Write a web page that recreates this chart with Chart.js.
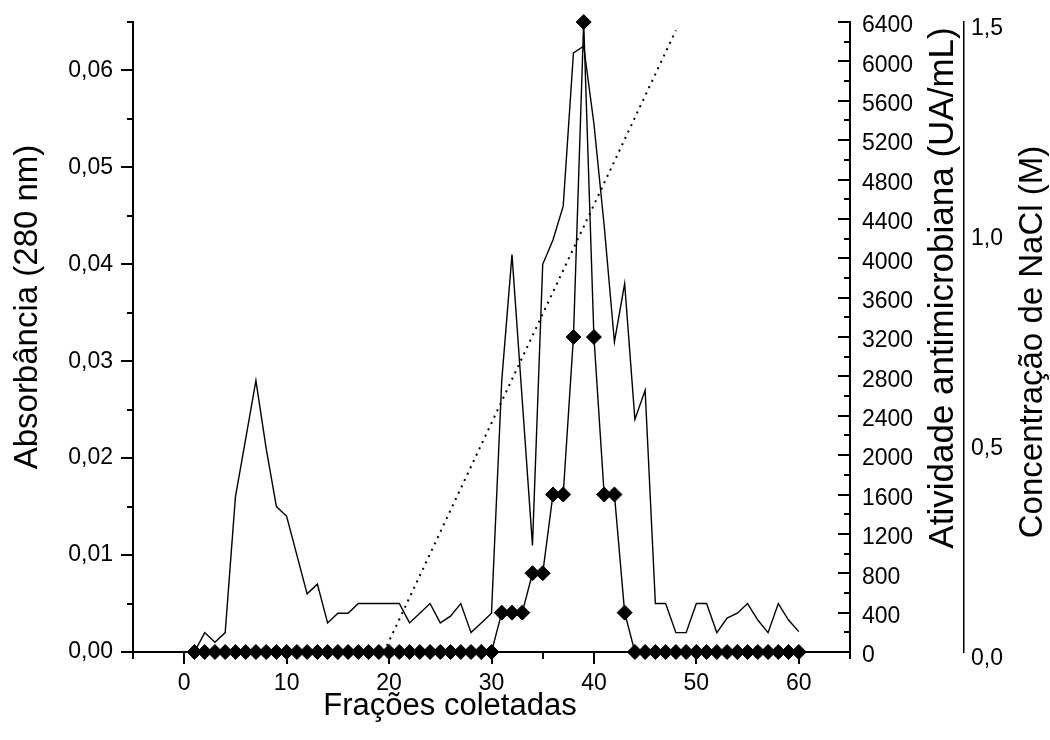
<!DOCTYPE html>
<html>
<head>
<meta charset="utf-8">
<script src="https://cdn.jsdelivr.net/npm/chart.js@4.4.0/dist/chart.umd.min.js"></script>
<style>
    html, body { margin: 0; padding: 0; background: #fff; }
    canvas { display: block; }
</style>
</head>
<body>
<canvas id="chart" width="1050" height="740"></canvas>
<script>
"use strict";

// Frações coletadas
const fractions = [1, 2, 3, 4, 5, 6, 7, 8, 9, 10, 11, 12, 13, 14, 15, 16, 17, 18, 19, 20,
    21, 22, 23, 24, 25, 26, 27, 28, 29, 30, 31, 32, 33, 34, 35, 36, 37, 38, 39, 40,
    41, 42, 43, 44, 45, 46, 47, 48, 49, 50, 51, 52, 53, 54, 55, 56, 57, 58, 59, 60];

// Absorbância (280 nm)
const absorbance = [0.000, 0.002, 0.001, 0.002, 0.016, 0.022, 0.028, 0.021, 0.015, 0.014,
    0.010, 0.006, 0.007, 0.003, 0.004, 0.004, 0.005, 0.005, 0.005, 0.005,
    0.005, 0.003, 0.004, 0.005, 0.003, 0.0037, 0.005, 0.002, 0.003, 0.004,
    0.028, 0.041, 0.026, 0.011, 0.040, 0.0425, 0.046, 0.0618, 0.0625, 0.0545,
    0.044, 0.032, 0.038, 0.024, 0.027, 0.005, 0.005, 0.002, 0.002, 0.005,
    0.005, 0.002, 0.0035, 0.004, 0.005, 0.0033, 0.002, 0.005, 0.0033, 0.0021];

// Atividade antimicrobiana (UA/mL)
const activity = [0, 0, 0, 0, 0, 0, 0, 0, 0, 0, 0, 0, 0, 0, 0, 0, 0, 0, 0, 0,
    0, 0, 0, 0, 0, 0, 0, 0, 0, 0, 400, 400, 400, 800, 800, 1600, 1600, 3200, 6400, 3200,
    1600, 1600, 400, 0, 0, 0, 0, 0, 0, 0, 0, 0, 0, 0, 0, 0, 0, 0, 0, 0];

// gradiente de NaCl (M)
const naclFractions = [19.5, 48];
const naclConc = [0, 1.48];

// ticks
const xTicks = [0, 10, 20, 30, 40, 50, 60];
const xMinorTicks = [-5, 5, 15, 25, 35, 45, 55, 65];
const absTicks = [0, 0.01, 0.02, 0.03, 0.04, 0.05, 0.06];
const absMinorTicks = [0.005, 0.015, 0.025, 0.035, 0.045, 0.055, 0.065];
const activityTicks = [0, 400, 800, 1200, 1600, 2000, 2400, 2800, 3200, 3600, 4000,
    4400, 4800, 5200, 5600, 6000, 6400];
const activityMinorTicks = [200, 600, 1000, 1400, 1800, 2200, 2600, 3000, 3400, 3800,
    4200, 4600, 5000, 5400, 5800, 6200];
const naclTicks = [0, 0.5, 1.0, 1.5];

const FONT = "'Liberation Sans', Arial, sans-serif";
const tickFont = { family: FONT, size: 23 };

const setTicks = (values) => (scale) => {
    scale.ticks = values.map(v => ({ value: v }));
};
const comma = (digits) => (v) => Number(v).toFixed(digits).replace(".", ",");
// invisible tick marks only used as a gap between axis line and labels
const gap = (len) => ({
    display: true, drawOnChartArea: false, drawTicks: true,
    tickLength: len, tickColor: "rgba(0,0,0,0)"
});

// small ticks, inward ticks and rotated titles
const extras = {
    id: "extras",
    afterDraw(chart) {
        const ctx = chart.ctx;
        const { x, y, y1 } = chart.scales;
        ctx.save();
        ctx.strokeStyle = "#000";
        ctx.lineWidth = 2;
        ctx.beginPath();
        const xTick = (v, len) => {
            const px = Math.round(x.getPixelForValue(v));
            ctx.moveTo(px, x.top);
            ctx.lineTo(px, x.top + len);
        };
        xTicks.forEach(v => xTick(v, 12));
        xMinorTicks.forEach(v => xTick(v, 7));
        const yTick = (scale, v, edge, len) => {
            const py = Math.round(scale.getPixelForValue(v));
            ctx.moveTo(edge, py);
            ctx.lineTo(edge - len, py);
        };
        absTicks.forEach(v => yTick(y, v, y.right, 12));
        absMinorTicks.forEach(v => yTick(y, v, y.right, 6));
        activityTicks.forEach(v => yTick(y1, v, y1.left, 12));
        activityMinorTicks.forEach(v => yTick(y1, v, y1.left, 6));
        ctx.stroke();

        ctx.fillStyle = "#000";
        ctx.textAlign = "center";
        ctx.textBaseline = "alphabetic";
        ctx.font = "31px " + FONT;
        ctx.fillText("Frações coletadas", 450, 715);

        const vTitle = (text, bx, cy, size) => {
            ctx.save();
            ctx.font = size + "px " + FONT;
            ctx.translate(bx, cy);
            ctx.rotate(-Math.PI / 2);
            ctx.fillText(text, 0, 0);
            ctx.restore();
        };
        vTitle("Absorbância (280 nm)", 37, 307, 33);
        vTitle("Atividade antimicrobiana (UA/mL)", 953, 288, 35);
        vTitle("Concentração de NaCl (M)", 1042, 342, 33);
        ctx.restore();
    }
};

new Chart(document.getElementById("chart"), {
    type: "line",
    data: {
        datasets: [
            {
                label: "Atividade antimicrobiana",
                data: fractions.map((f, i) => ({ x: f, y: activity[i] })),
                yAxisID: "y1",
                borderColor: "#000",
                borderWidth: 1.4,
                pointStyle: "rectRot",
                pointRadius: 7.5,
                pointBackgroundColor: "#000",
                pointBorderColor: "#000",
                pointBorderWidth: 1,
                clip: false
            },
            {
                label: "Absorbância",
                data: fractions.map((f, i) => ({ x: f, y: absorbance[i] })),
                yAxisID: "y",
                borderColor: "#000",
                borderWidth: 1.4,
                pointRadius: 0
            },
            {
                label: "NaCl",
                data: naclFractions.map((f, i) => ({ x: f, y: naclConc[i] })),
                yAxisID: "y2",
                borderColor: "#000",
                borderWidth: 2,
                borderDash: [2, 5],
                pointRadius: 0
            }
        ]
    },
    options: {
        responsive: false,
        animation: false,
        devicePixelRatio: 1,
        layout: { padding: { top: 22, left: 0, right: 0, bottom: 0 } },
        plugins: {
            legend: { display: false },
            tooltip: { enabled: false }
        },
        scales: {
            x: {
                type: "linear",
                position: "bottom",
                min: -5,
                max: 65,
                afterBuildTicks: setTicks(xTicks),
                afterFit: (s) => { s.height = 88; },
                grid: gap(18),
                border: { display: true, color: "#000", width: 2 },
                ticks: { padding: 0, color: "#000", font: tickFont, maxRotation: 0, autoSkip: false }
            },
            y: {
                position: "left",
                min: 0,
                max: 0.065,
                afterBuildTicks: setTicks(absTicks),
                afterFit: (s) => { s.width = 133; },
                grid: gap(20),
                border: { display: true, color: "#000", width: 2 },
                ticks: { padding: 0, color: "#000", font: tickFont, autoSkip: false, callback: comma(2) }
            },
            y1: {
                position: "right",
                weight: 0,
                min: 0,
                max: 6400,
                afterBuildTicks: setTicks(activityTicks),
                afterFit: (s) => { s.width = 114; },
                grid: gap(12),
                border: { display: true, color: "#000", width: 2 },
                ticks: { padding: 0, labelOffset: 4, color: "#000", font: tickFont, autoSkip: false,
                    callback: (v) => String(v) }
            },
            y2: {
                position: "right",
                weight: 1,
                min: 0,
                max: 1.5,
                afterBuildTicks: setTicks(naclTicks),
                afterFit: (s) => { s.width = 86; },
                grid: gap(7),
                border: { display: true, color: "#000", width: 1.5 },
                ticks: { padding: 0, labelOffset: 7, color: "#000", font: tickFont, autoSkip: false, callback: comma(1) }
            }
        }
    },
    plugins: [extras]
});
</script>
</body>
</html>
